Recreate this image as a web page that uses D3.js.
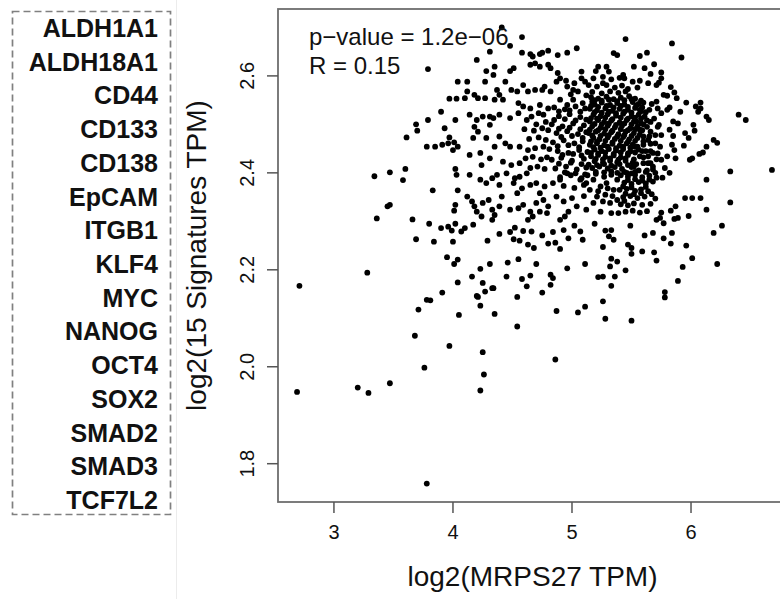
<!DOCTYPE html>
<html lang="en">
<head>
<meta charset="utf-8">
<title>MRPS27 vs 15 signatures</title>
<script src="https://d3js.org/d3.v7.min.js"></script>
<style>
  body { margin: 0; background: #fff; }
  svg { font-family: "Liberation Sans", Arial, sans-serif; }
</style>
</head>
<body>
<script>
// genes in the signature
var genes = ["ALDH1A1", "ALDH18A1", "CD44", "CD133", "CD138", "EpCAM", "ITGB1",
             "KLF4", "MYC", "NANOG", "OCT4", "SOX2", "SMAD2", "SMAD3", "TCF7L2"];

var xTicks = [3, 4, 5, 6];
var yTicks = [1.8, 2.0, 2.2, 2.4, 2.6];

var statLines = ["p\u2212value = 1.2e\u221206", "R = 0.15"];

// [log2(MRPS27 TPM), log2(15 Signatures TPM)]
var samples = [
  [3.79,2.614],[4.04,2.588],[3.97,2.553],[4.03,2.553],[3.90,2.526],[3.79,2.509],[4.02,2.509],[3.69,2.500],[3.70,2.487],[3.93,2.492],
  [3.61,2.473],[3.97,2.473],[3.78,2.454],[3.85,2.454],[3.91,2.458],[3.96,2.461],[4.01,2.463],[4.00,2.447],[4.04,2.454],[3.60,2.408],
  [3.47,2.401],[3.34,2.393],[3.58,2.385],[4.02,2.408],[4.03,2.396],[3.83,2.364],[4.04,2.364],[3.45,2.331],[3.47,2.334],[4.02,2.334],
  [4.01,2.322],[3.36,2.306],[3.66,2.304],[3.80,2.295],[3.90,2.286],[3.96,2.289],[3.99,2.281],[4.02,2.295],[3.69,2.263],[3.84,2.258],
  [4.00,2.258],[3.95,2.226],[4.01,2.212],[4.04,2.221],[3.28,2.194],[2.71,2.167],[4.04,2.174],[3.91,2.153],[3.78,2.138],[3.81,2.137],
  [3.71,2.118],[4.05,2.107],
  [3.68,2.064],[3.97,2.043],[4.25,2.030],[4.86,2.015],[3.76,1.998],[4.26,1.984],[3.47,1.966],[3.20,1.957],[3.29,1.946],[2.69,1.948],
  [4.23,1.951],[3.78,1.759],
  [4.07,2.279],[4.17,2.293],[4.10,2.286],[4.29,2.260],[4.39,2.274],[4.48,2.278],[4.52,2.287],[4.51,2.263],[4.56,2.260],[4.59,2.280],
  [4.66,2.279],[4.63,2.252],[4.68,2.245],[4.75,2.271],[4.80,2.254],[4.86,2.256],[4.90,2.243],[4.84,2.278],[4.93,2.282],[4.97,2.265],
  [5.02,2.291],[5.07,2.279],[5.09,2.262],[5.19,2.295],[5.26,2.247],[5.28,2.281],[5.33,2.282],[5.31,2.269],[5.35,2.262],
  [4.23,2.202],[4.31,2.212],[4.46,2.215],[4.55,2.222],[4.70,2.212],[4.96,2.203],[5.11,2.212],[5.33,2.223],[5.38,2.217],[5.32,2.207],
  [4.16,2.186],[4.25,2.173],[4.33,2.162],[4.27,2.155],[4.34,2.162],[4.45,2.186],[4.58,2.181],[4.65,2.188],[4.62,2.166],[4.82,2.190],
  [4.84,2.183],[4.82,2.169],[5.22,2.185],[5.26,2.186],[5.36,2.186],[5.33,2.167],[4.20,2.146],[4.21,2.144],[4.54,2.144],[4.75,2.153],
  [4.23,2.126],[4.35,2.109],[4.54,2.083],[4.87,2.115],[5.05,2.112],[5.11,2.124],[5.26,2.135],[5.28,2.099],
  [6.33,2.403],[6.68,2.406],[6.13,2.386],[5.95,2.348],[6.01,2.348],[6.08,2.348],[6.33,2.339],[6.13,2.324],[5.98,2.311],[5.87,2.331],
  [5.83,2.322],[5.86,2.305],[5.89,2.307],[5.75,2.318],[5.74,2.307],[5.71,2.303],[5.77,2.296],[6.26,2.291],[6.19,2.276],[5.84,2.276],
  [5.77,2.265],[5.68,2.276],[5.61,2.271],[5.49,2.291],[5.83,2.254],[5.96,2.250],[5.47,2.252],[5.50,2.245],[5.50,2.233],[5.59,2.238],
  [5.69,2.236],[5.71,2.219],[6.01,2.224],[6.22,2.212],[5.93,2.206],[5.45,2.199],[5.89,2.177],[5.78,2.154],[5.78,2.143],[5.50,2.095],
  [5.45,2.676],[5.84,2.667],[5.92,2.638],[5.57,2.641],[5.63,2.648],[5.69,2.624],[5.52,2.619],[5.61,2.616],[5.43,2.602],[5.44,2.595],
  [5.66,2.604],[5.75,2.607],[5.75,2.595],[5.73,2.586],[5.71,2.581],[5.51,2.588],[5.57,2.590],[5.64,2.585],[5.45,2.568],[5.47,2.573],
  [5.55,2.576],[5.83,2.577],[5.86,2.566],[5.77,2.561],[5.80,2.559],[5.88,2.554],[5.96,2.545],[6.08,2.545],[6.04,2.537],[6.08,2.533],
  [6.06,2.526],[6.40,2.520],[6.46,2.509],[6.13,2.516],[6.15,2.509],[5.91,2.526],[5.67,2.542],[5.71,2.547],[5.72,2.533],[5.80,2.530],
  [5.82,2.535],[5.75,2.523],[6.02,2.499],[6.03,2.487],[5.95,2.482],[5.98,2.472],[5.85,2.506],[5.89,2.502],[5.82,2.489],[5.85,2.476],
  [5.73,2.499],[5.75,2.478],[5.70,2.478],[6.19,2.468],[6.22,2.462],[5.94,2.456],[6.13,2.454],[6.07,2.439],[6.10,2.442],[5.99,2.427],
  [6.01,2.430],[5.84,2.458],[5.86,2.447],[5.80,2.434],[5.87,2.430],[5.70,2.461],[5.74,2.454],[5.68,2.441],[5.64,2.434],[5.75,2.427],
  [5.57,2.530],[5.61,2.516],[5.54,2.506],[5.63,2.495],[5.57,2.489],[5.64,2.468],[5.60,2.458],[5.53,2.454],[5.57,2.434],[5.64,2.420],
  [5.52,2.413],[5.68,2.413],
  [4.41,2.700],[4.58,2.680],[4.48,2.662],[4.31,2.650],[4.20,2.633],[4.58,2.648],[4.65,2.645],[4.67,2.640],[4.73,2.645],[4.75,2.648],
  [4.80,2.652],[4.88,2.643],[4.96,2.648],[5.04,2.657],[5.35,2.647],[5.38,2.643],[5.22,2.619],[5.29,2.619],[5.31,2.609],[4.35,2.619],
  [4.28,2.610],[4.34,2.602],[4.48,2.610],[4.51,2.616],[4.65,2.623],[4.69,2.626],[4.73,2.619],[4.80,2.623],[4.82,2.616],[4.88,2.606],
  [4.90,2.595],[4.87,2.588],[4.96,2.578],[5.01,2.571],[5.05,2.568],[5.08,2.609],[5.11,2.588],[5.14,2.581],[4.12,2.588],[4.27,2.588],
  [4.44,2.588],[4.37,2.571],[4.39,2.561],[4.35,2.551],[4.42,2.551],[4.27,2.554],[4.49,2.571],[4.54,2.568],[4.59,2.581],[4.63,2.568],
  [4.69,2.571],[4.75,2.571],[4.77,2.578],[4.82,2.568],[4.12,2.568],[4.10,2.554],[4.18,2.561],[4.21,2.554],[4.55,2.544],[4.59,2.537],
  [4.65,2.533],[4.73,2.540],[4.80,2.533],[4.90,2.551],[4.96,2.540],[5.01,2.551],[5.09,2.544],[5.17,2.547],[4.14,2.520],[4.20,2.509],
  [4.25,2.516],[4.31,2.516],[4.18,2.495],[4.21,2.485],[4.31,2.499],[4.34,2.513],[4.39,2.520],[4.48,2.513],[4.55,2.523],[4.62,2.509],
  [4.66,2.516],[4.72,2.523],[4.76,2.520],[4.17,2.472],[4.28,2.472],[4.39,2.475],[4.44,2.461],[4.14,2.437],[4.23,2.441],
  [4.31,2.430],[4.35,2.454],[4.48,2.454],[4.56,2.454],[4.63,2.447],[4.24,2.416],[4.42,2.423],[4.49,2.416],[4.56,2.420],
  [4.14,2.396],[4.23,2.386],[4.28,2.379],[4.33,2.389],[4.37,2.396],[4.39,2.375],[4.45,2.399],[4.52,2.389],[4.56,2.392],[4.62,2.399],
  [4.12,2.351],[4.16,2.341],[4.18,2.331],[4.20,2.320],[4.25,2.338],[4.30,2.344],[4.33,2.324],[4.35,2.313],[4.39,2.331],[4.41,2.351],
  [4.24,2.310],[4.33,2.303],[4.51,2.379],[4.58,2.368],[4.54,2.358],[4.65,2.375],[4.70,2.379],[4.77,2.372],[4.73,2.358],[4.76,2.344],
  [4.70,2.338],[4.80,2.331],[4.73,2.320],[4.79,2.317],[4.48,2.324],[4.55,2.327],[4.59,2.334],[4.65,2.320],[4.63,2.303],[4.67,2.310],
  [4.84,2.379],[4.90,2.386],[4.96,2.399],[4.87,2.351],[4.93,2.341],[5.00,2.348],[5.04,2.331],[4.97,2.320],[4.90,2.303],[4.94,2.310],
  [5.07,2.386],[5.12,2.379],[5.18,2.386],[5.24,2.372],[5.29,2.379],[5.35,2.365],[5.38,2.386],[5.15,2.365],[5.21,2.351],[5.26,2.341],
  [5.32,2.338],[5.38,2.344],[5.18,2.338],[5.12,2.324],[5.24,2.320],[5.33,2.317],[5.39,2.317],
  // dense core around (5.3, 2.48)
  [5.16,2.556],[5.22,2.553],[5.29,2.557],[5.35,2.552],[5.41,2.555],[5.48,2.558],[5.53,2.553],
  [5.19,2.541],[5.25,2.545],[5.32,2.540],[5.38,2.544],[5.44,2.541],[5.51,2.546],[5.56,2.542],
  [5.15,2.532],[5.21,2.529],[5.28,2.533],[5.34,2.528],[5.40,2.532],[5.47,2.530],[5.53,2.534],
  [5.18,2.520],[5.24,2.517],[5.30,2.521],[5.37,2.518],[5.43,2.522],[5.50,2.517],[5.56,2.520],
  [5.15,2.506],[5.22,2.509],[5.27,2.505],[5.33,2.508],[5.40,2.504],[5.46,2.509],[5.52,2.506],
  [5.17,2.496],[5.24,2.493],[5.30,2.497],[5.36,2.494],[5.42,2.497],[5.49,2.492],[5.55,2.496],
  [5.14,2.482],[5.20,2.485],[5.27,2.481],[5.33,2.484],[5.39,2.480],[5.45,2.485],[5.52,2.482],
  [5.18,2.472],[5.23,2.469],[5.30,2.473],[5.36,2.470],[5.43,2.474],[5.48,2.469],[5.55,2.472],
  [5.15,2.458],[5.21,2.461],[5.27,2.457],[5.34,2.460],[5.40,2.456],[5.46,2.461],[5.51,2.458],
  [5.19,2.448],[5.25,2.445],[5.31,2.449],[5.37,2.446],[5.43,2.449],[5.49,2.444],[5.56,2.448],
  [5.16,2.434],[5.22,2.437],[5.28,2.433],[5.35,2.436],[5.41,2.432],[5.47,2.437],
  [5.19,2.424],[5.26,2.421],[5.32,2.425],[5.38,2.422],[5.45,2.425],[5.51,2.421],
  [5.17,2.410],[5.23,2.413],[5.30,2.409],[5.36,2.412],[5.42,2.408],[5.50,2.412],
  [5.19,2.550],[5.25,2.549],[5.31,2.551],[5.38,2.548],[5.44,2.550],[5.50,2.552],[5.58,2.549],
  [5.16,2.538],[5.22,2.536],[5.29,2.538],[5.35,2.535],[5.41,2.538],[5.47,2.536],[5.54,2.539],
  [5.19,2.525],[5.25,2.524],[5.31,2.526],[5.37,2.523],[5.44,2.526],[5.50,2.524],[5.58,2.527],
  [5.16,2.513],[5.21,2.512],[5.28,2.514],[5.34,2.511],[5.41,2.514],[5.47,2.512],[5.53,2.514],
  [5.19,2.501],[5.25,2.500],[5.31,2.502],[5.37,2.499],[5.44,2.502],[5.50,2.500],[5.58,2.502],
  [5.15,2.489],[5.22,2.488],[5.28,2.490],[5.34,2.487],[5.41,2.490],[5.47,2.488],[5.53,2.490],
  [5.17,2.477],[5.24,2.476],[5.31,2.478],[5.38,2.475],[5.44,2.478],[5.50,2.476],[5.57,2.479],
  [5.16,2.465],[5.21,2.464],[5.28,2.466],[5.34,2.463],[5.41,2.466],[5.47,2.464],[5.53,2.466],
  [5.18,2.453],[5.24,2.452],[5.30,2.454],[5.37,2.451],[5.43,2.454],[5.49,2.452],[5.55,2.454],
  [5.16,2.441],[5.22,2.440],[5.28,2.442],[5.35,2.439],[5.41,2.442],[5.47,2.440],[5.53,2.442],
  [5.20,2.429],[5.26,2.428],[5.32,2.430],[5.39,2.427],[5.45,2.430],[5.52,2.428],
  [5.14,2.417],[5.21,2.416],[5.27,2.418],[5.33,2.415],[5.40,2.418],[5.47,2.416],[5.54,2.418],
  [5.20,2.402],[5.27,2.401],[5.33,2.403],[5.46,2.400],[5.53,2.402],
  [4.85,2.535],[4.94,2.531],[5.03,2.537],[5.11,2.533],[4.89,2.517],[4.98,2.521],[5.07,2.515],
  [4.83,2.500],[4.92,2.496],[5.01,2.502],[5.10,2.498],[4.87,2.482],[4.96,2.486],[5.05,2.480],[5.12,2.484],
  [4.84,2.463],[4.93,2.467],[5.02,2.461],[5.09,2.465],[4.88,2.445],[4.97,2.441],[5.06,2.447],[5.13,2.443],
  [4.83,2.427],[4.91,2.431],[5.00,2.425],[5.10,2.429],[4.86,2.409],[4.95,2.413],[5.04,2.407],[5.12,2.411],
  [4.90,2.391],[4.99,2.395],[5.08,2.389],[4.93,2.373],[5.02,2.369],[5.10,2.375],
  [4.89,2.527],[4.98,2.529],[5.07,2.526],[4.85,2.509],[4.94,2.511],[5.03,2.508],[5.12,2.510],
  [4.89,2.491],[4.98,2.493],[5.07,2.490],[4.91,2.474],[5.00,2.476],[5.09,2.472],
  [4.88,2.455],[4.97,2.457],[5.06,2.453],[4.92,2.437],[5.01,2.439],[5.08,2.436],
  [4.89,2.419],[4.99,2.421],[5.08,2.418],[4.94,2.401],[5.03,2.399],[5.11,2.397],
  [4.70,2.500],[4.78,2.505],[4.60,2.490],[4.68,2.487],[4.75,2.492],[4.80,2.488],
  [4.64,2.470],[4.72,2.473],[4.78,2.468],[4.69,2.451],[4.76,2.454],[4.81,2.449],
  [4.61,2.430],[4.67,2.433],[4.74,2.428],[4.79,2.432],[4.65,2.410],[4.71,2.413],[4.77,2.408],
  [5.56,2.405],[5.62,2.402],[5.68,2.407],[5.41,2.395],[5.47,2.392],[5.53,2.396],[5.59,2.391],[5.65,2.394],[5.71,2.390],
  [5.44,2.380],[5.50,2.377],[5.56,2.381],[5.62,2.378],[5.68,2.382],[5.40,2.365],[5.46,2.367],[5.53,2.363],[5.58,2.366],[5.64,2.362],
  [5.43,2.350],[5.49,2.352],[5.55,2.348],[5.61,2.351],[5.70,2.347],[5.41,2.335],[5.47,2.333],[5.52,2.337],[5.59,2.334],[5.66,2.336],
  [5.45,2.320],[5.51,2.322],[5.57,2.318],[5.63,2.321],
  [5.38,2.400],[5.44,2.402],[5.50,2.399],[5.47,2.385],[5.53,2.387],[5.59,2.384],[5.65,2.386],[5.43,2.372],[5.50,2.370],[5.62,2.371],
  [5.45,2.357],[5.52,2.356],[5.58,2.358],[5.67,2.356],[5.44,2.342],
  [5.13,2.395],[5.20,2.398],[5.27,2.392],[5.33,2.396],[5.10,2.352],[5.28,2.355],[5.34,2.352],[5.22,2.362],[5.30,2.368],
  [5.18,2.595],[5.26,2.598],[5.33,2.593],[5.40,2.596],[5.21,2.578],[5.29,2.581],[5.36,2.576],[5.42,2.580],
  [5.17,2.567],[5.25,2.564],[5.32,2.568],[5.39,2.565],
  [4.95,2.590],[5.02,2.585],[5.08,2.595],[4.99,2.562],[5.12,2.560],[5.20,2.610],[5.26,2.585],
  [5.60,2.545],[5.62,2.525],[5.60,2.500],[5.66,2.505],[5.60,2.475],[5.66,2.485],[5.62,2.445],[5.60,2.420],[5.66,2.420],
  [5.70,2.400],[5.72,2.440],[5.78,2.410],[5.82,2.400],[5.76,2.390],
  [5.59,2.535],[5.65,2.530],[5.58,2.512],[5.63,2.508],[5.69,2.512],[5.59,2.488],[5.65,2.475],[5.60,2.465],[5.66,2.460],
  [5.59,2.445],[5.66,2.445],[5.60,2.432],[5.63,2.405],[5.71,2.428],[5.72,2.495]
];

var w = 780, h = 599;

var svg = d3.select("body").append("svg")
    .attr("width", w)
    .attr("height", h);

// ---- left panel: gene list in a dashed box
svg.append("rect")
    .attr("x", 12.5).attr("y", 11.5)
    .attr("width", 158).attr("height", 503)
    .attr("fill", "none")
    .attr("stroke", "#808080")
    .attr("stroke-width", 1.7)
    .attr("stroke-dasharray", "7,4");

var geneY = d3.scalePoint().domain(genes).range([37, 509]);

svg.append("g")
  .selectAll("text")
  .data(genes)
  .enter().append("text")
    .attr("x", 158)
    .attr("y", function(d) { return geneY(d); })
    .attr("text-anchor", "end")
    .attr("font-size", 25)
    .attr("font-weight", "bold")
    .attr("fill", "#111")
    .text(function(d) { return d; });

// faint divider between the two panels
svg.append("line")
    .attr("x1", 176.5).attr("x2", 176.5)
    .attr("y1", 0).attr("y2", h)
    .attr("stroke", "#ececec")
    .attr("stroke-width", 1);

// ---- scatter panel
var plotL = 278, plotR = 791, plotT = 9, plotB = 502;

var x = d3.scaleLinear().domain([2.53, 6.84]).range([plotL, plotR]);
var y = d3.scaleLinear().domain([1.721, 2.738]).range([plotB, plotT]);

// points
svg.append("g")
  .selectAll("circle")
  .data(samples)
  .enter().append("circle")
    .attr("cx", function(d) { return x(d[0]); })
    .attr("cy", function(d) { return y(d[1]); })
    .attr("r", 2.9)
    .attr("fill", "#000");

// box
svg.append("rect")
    .attr("x", plotL).attr("y", plotT)
    .attr("width", plotR - plotL).attr("height", plotB - plotT)
    .attr("fill", "none")
    .attr("stroke", "#6e6e6e")
    .attr("stroke-width", 1.8);

// x axis
var xAxis = svg.append("g");
xAxis.selectAll("line")
  .data(xTicks)
  .enter().append("line")
    .attr("x1", function(d) { return x(d); })
    .attr("x2", function(d) { return x(d); })
    .attr("y1", plotB).attr("y2", plotB + 11)
    .attr("stroke", "#555").attr("stroke-width", 1.5);
xAxis.selectAll("text")
  .data(xTicks)
  .enter().append("text")
    .attr("x", function(d) { return x(d); })
    .attr("y", 539)
    .attr("text-anchor", "middle")
    .attr("font-size", 20)
    .attr("fill", "#111")
    .text(function(d) { return d; });

// y axis
var yAxis = svg.append("g");
yAxis.selectAll("line")
  .data(yTicks)
  .enter().append("line")
    .attr("x1", plotL - 11).attr("x2", plotL)
    .attr("y1", function(d) { return y(d); })
    .attr("y2", function(d) { return y(d); })
    .attr("stroke", "#555").attr("stroke-width", 1.5);
yAxis.selectAll("text")
  .data(yTicks)
  .enter().append("text")
    .attr("transform", function(d) { return "translate(254," + y(d) + ") rotate(-90)"; })
    .attr("text-anchor", "middle")
    .attr("font-size", 20)
    .attr("fill", "#111")
    .text(function(d) { return d3.format(".1f")(d); });

// axis titles
svg.append("text")
    .attr("x", (plotL + plotR) / 2 - 2)
    .attr("y", 586)
    .attr("text-anchor", "middle")
    .attr("font-size", 28)
    .attr("fill", "#111")
    .text("log2(MRPS27 TPM)");

svg.append("text")
    .attr("transform", "translate(206," + ((plotT + plotB) / 2) + ") rotate(-90)")
    .attr("text-anchor", "middle")
    .attr("font-size", 28)
    .attr("fill", "#111")
    .text("log2(15 Signatures TPM)");

// correlation stats
svg.append("g").selectAll("text")
  .data(statLines)
  .enter().append("text")
    .attr("x", 309)
    .attr("y", function(d, i) { return 45 + i * 29; })
    .attr("font-size", 24)
    .attr("fill", "#111")
    .text(function(d) { return d; });
</script>
</body>
</html>
